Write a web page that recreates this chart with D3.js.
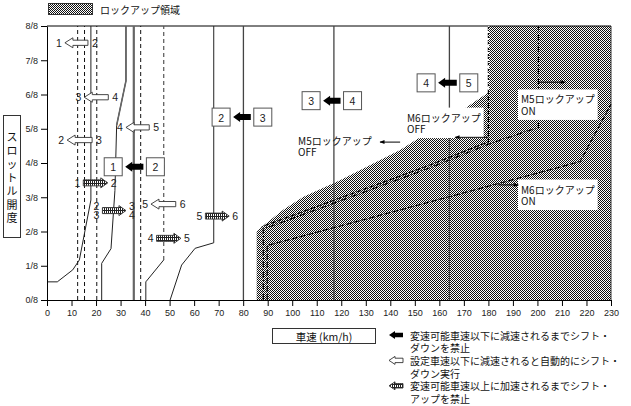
<!DOCTYPE html>
<html>
<head>
<meta charset="utf-8">
<script src="https://cdn.jsdelivr.net/npm/d3@7"></script>
<style>
body { margin: 0; background: #fff; }
svg { display: block; font-family: "Liberation Sans", Arial, sans-serif; }
.jp { font-family: "Noto Sans CJK JP", sans-serif; }
</style>
</head>
<body>
<div id="container"></div>
<script>
// ---- data (speed km/h, throttle in eighths) ----
const speedTicks = d3.range(0, 231, 10);
const throttleTicks = d3.range(0, 9);

const up12 = [[0, 0.53], [4.2, 0.53], [10.5, 0.88], [13.2, 1.17], [17.9, 2.92], [17.9, 8]];
const up23 = [[22.3, 0], [22.3, 1.07], [26.1, 1.5], [27.7, 3.2], [28.4, 5.1], [32.2, 6.4], [32.2, 8]];
const up34 = [[50.2, 0], [54.9, 1.02], [60.4, 1.51], [68, 1.67], [68, 8]];
const down43Low = [[40.3, 0], [40.3, 0.53], [47.6, 1.17]];
const down43High = [[47.6, 1.17], [47.6, 8]];
const solidVerticals = [80.1, 117, 164.1];
const grayVerticals = [35.4];
const dashedVerticals = [12.5, 15.3, 20.3, 38.2];

const lockupArea = [[85.5, 0], [85.5, 1.99], [87.6, 2.14], [96.2, 2.63], [104.4, 3.01], [119.5, 3.5],
  [144, 4.38], [164.4, 5.31], [180.3, 6.07], [180.3, 8], [230, 8], [230, 0]];
const lockM6Off = [[180, 8], [180, 4.62], [156.2, 3.94], [87.6, 2.14]];
const lockM5On = [[88.2, 0], [88.2, 2.07], [156.2, 3.86], [180, 4.55], [200.4, 5.04], [200.4, 8]];
const lockM6On = [[89.8, 0], [89.8, 1.59], [217.4, 4.04], [230, 5.72]];

const hollowArrows = [
  { tip: 7.3, tail: 16.7, t: 7.51, from: "1", to: "2" },
  { tip: 15.2, tail: 25.0, t: 5.92, from: "3", to: "4" },
  { tip: 32.2, tail: 41.7, t: 5.04, from: "4", to: "5" },
  { tip: 8.2, tail: 18.4, t: 4.67, from: "2", to: "3" },
  { tip: 42.4, tail: 52.5, t: 2.80, from: "5", to: "6" }
];
const hatchArrows = [
  { tail: 14.8, tip: 24.8, t: 3.42, from: ["1"], to: ["2"] },
  { tail: 22.6, tip: 32.2, t: 2.61, from: ["2", "3"], to: ["3", "4"] },
  { tail: 44.7, tip: 54.6, t: 1.80, from: ["4"], to: ["5"] },
  { tail: 64.6, tip: 74.3, t: 2.45, from: ["5"], to: ["6"] }
];
const gearBoxes = [
  { left: 27.0, right: 44.2, t: 3.89, from: "1", to: "2" },
  { left: 71.0, right: 88.0, t: 5.34, from: "2", to: "3" },
  { left: 107.7, right: 124.6, t: 5.82, from: "3", to: "4" },
  { left: 154.6, right: 172.0, t: 6.34, from: "4", to: "5" }
];
const lockLabels = [
  { s: 102.4, t: 4.67, lines: ["M5ロックアップ", "OFF"], bg: false },
  { s: 146.8, t: 5.34, lines: ["M6ロックアップ", "OFF"], bg: true },
  { s: 193.3, t: 5.87, lines: ["M5ロックアップ", "ON"], bg: true },
  { s: 193.3, t: 3.24, lines: ["M6ロックアップ", "ON"], bg: true }
];
const lockPointers = [[144.0, 135.8, 4.61], [180, 166.4, 4.75], [200.4, 211.3, 6.36], [184.1, 192.2, 3.36]];

const legendNotes = [
  { kind: "black", lines: ["変速可能車速以下に減速されるまでシフト・", "ダウンを禁止"] },
  { kind: "hollow", lines: ["設定車速以下に減速されると自動的にシフト・", "ダウン実行"] },
  { kind: "hatch", lines: ["変速可能車速以上に加速されるまでシフト・", "アップを禁止"] }
];
const yTitle = "スロットル開度".split("");

// ---- drawing ----
const W = 631, H = 406;
const svg = d3.select("#container").append("svg").attr("width", W).attr("height", H);
const defs = svg.append("defs");

const dots = defs.append("pattern").attr("id", "dots").attr("width", 2).attr("height", 2)
  .attr("patternUnits", "userSpaceOnUse");
dots.append("rect").attr("width", 2).attr("height", 2).attr("fill", "#fff");
dots.append("rect").attr("width", 1).attr("height", 1).attr("fill", "#111");
dots.append("rect").attr("x", 1).attr("y", 1).attr("width", 1).attr("height", 1).attr("fill", "#111");

const hatch = defs.append("pattern").attr("id", "hatch").attr("width", 2).attr("height", 3)
  .attr("patternUnits", "userSpaceOnUse");
hatch.append("rect").attr("width", 2).attr("height", 3).attr("fill", "#fff");
hatch.append("rect").attr("width", 1).attr("height", 3).attr("fill", "#222");
hatch.append("rect").attr("width", 2).attr("height", 1).attr("fill", "#222");

defs.append("marker").attr("id", "head").attr("viewBox", "0 0 10 10").attr("refX", 9).attr("refY", 5)
  .attr("markerWidth", 6).attr("markerHeight", 5).attr("markerUnits", "userSpaceOnUse").attr("orient", "auto")
  .append("path").attr("d", "M0,1L10,5L0,9Z").attr("fill", "#000");

const x = d3.scaleLinear().domain([0, 230]).range([47, 611]);
const y = d3.scaleLinear().domain([0, 8]).range([300, 26]);
const line = d3.line().x(d => x(d[0])).y(d => y(d[1]));

// lockup region
svg.append("path").datum(lockupArea).attr("d", line.curve(d3.curveLinearClosed))
  .attr("fill", "url(#dots)").attr("stroke", "none");
line.curve(d3.curveLinear);

// frame
svg.append("line").attr("x1", x(0)).attr("x2", x(230)).attr("y1", y(8)).attr("y2", y(8)).attr("stroke", "#000");
svg.append("line").attr("x1", x(230)).attr("x2", x(230)).attr("y1", y(8)).attr("y2", y(0)).attr("stroke", "#333");

// shift lines
dashedVerticals.forEach(v => {
  svg.append("path").datum([[v, 0], [v, 8]]).attr("d", line).attr("fill", "none")
    .attr("stroke", "#111").attr("stroke-dasharray", "4,3");
});
svg.append("path").datum(down43High).attr("d", line).attr("fill", "none")
  .attr("stroke", "#555").attr("stroke-width", 1.2).attr("stroke-dasharray", "4,3");
grayVerticals.forEach(v => {
  svg.append("path").datum([[v, 0], [v, 8]]).attr("d", line).attr("fill", "none")
    .attr("stroke", "#666").attr("stroke-width", 2.2);
});
solidVerticals.forEach(v => {
  svg.append("path").datum([[v, 0], [v, 8]]).attr("d", line).attr("fill", "none")
    .attr("stroke", "#444").attr("stroke-width", 1.3);
});
[up12, up23, up34, down43Low].forEach(p => {
  svg.append("path").datum(p).attr("d", line).attr("fill", "none").attr("stroke", "#222").attr("stroke-width", 1);
});
svg.append("path").datum(up23.slice(4)).attr("d", line).attr("fill", "none").attr("stroke", "#666").attr("stroke-width", 1.6);

// lockup lines
svg.append("path").datum(lockM6On).attr("d", line).attr("fill", "none")
  .attr("stroke", "#000").attr("stroke-width", 1.1).attr("stroke-dasharray", "6,2");
svg.append("path").datum(lockM5On).attr("d", line).attr("fill", "none")
  .attr("stroke", "#000").attr("stroke-width", 1.2).attr("stroke-dasharray", "6,2,1,2");
svg.append("path").datum(lockM6Off).attr("d", line).attr("fill", "none")
  .attr("stroke", "#000").attr("stroke-width", 1.2).attr("stroke-dasharray", "5,2");
svg.append("path").datum([[180, 8], [180, 6.07]]).attr("d", line).attr("fill", "none")
  .attr("stroke", "#fff").attr("stroke-width", 1).attr("stroke-dasharray", "1,2");

// lockup labels
lockLabels.forEach(l => {
  const g = svg.append("g");
  const txt = g.append("text").attr("class", "jp").attr("font-size", 10).attr("fill", "#111");
  l.lines.forEach((s, i) => {
    txt.append("tspan").attr("x", x(l.s)).attr("y", y(l.t) + i * 11.5).attr("dominant-baseline", "central").text(s);
  });
  if (l.bg) {
    const b = txt.node().getBBox();
    g.insert("rect", "text").attr("x", b.x - 3).attr("y", b.y - 2).attr("width", b.width + 6)
      .attr("height", b.height + 4).attr("fill", "#fff");
  }
});
lockPointers.forEach(p => {
  svg.append("line").attr("x1", x(p[0])).attr("x2", x(p[1])).attr("y1", y(p[2])).attr("y2", y(p[2]))
    .attr("stroke", "#000").attr("stroke-width", 1).attr("marker-end", "url(#head)");
});

// arrow shape, tip and tail in pixels
function arrowPath(tip, tail, cy, head, half, shaft) {
  const dir = tail > tip ? 1 : -1;
  const hx = tip + dir * head;
  return `M${tip},${cy}L${hx},${cy - half}L${hx},${cy - shaft}L${tail},${cy - shaft}` +
    `L${tail},${cy + shaft}L${hx},${cy + shaft}L${hx},${cy + half}Z`;
}
function num(tx, ty, s, anchor) {
  svg.append("text").attr("x", tx).attr("y", ty).attr("text-anchor", anchor)
    .attr("dominant-baseline", "central").attr("font-size", 10.5).attr("fill", "#222").text(s);
}

hollowArrows.forEach(a => {
  svg.append("path").attr("d", arrowPath(x(a.tip), x(a.tail), y(a.t), 8, 5, 2.6))
    .attr("fill", "#fff").attr("stroke", "#333").attr("stroke-width", 0.9);
  num(x(a.tip) - 3, y(a.t), a.from, "end");
  num(x(a.tail) + 4, y(a.t), a.to, "start");
});
hatchArrows.forEach(a => {
  svg.append("path").attr("d", arrowPath(x(a.tip), x(a.tail), y(a.t), 7, 5, 3))
    .attr("fill", "url(#hatch)").attr("stroke", "#333").attr("stroke-width", 0.9);
  const n = a.from.length;
  a.from.forEach((s, i) => num(x(a.tail) - 3, y(a.t) + (i - (n - 1) / 2) * 9.5, s, "end"));
  a.to.forEach((s, i) => num(x(a.tip) + 3, y(a.t) + (i - (n - 1) / 2) * 9.5, s, "start"));
});
gearBoxes.forEach(b => {
  [[b.left, b.from], [b.right, b.to]].forEach(([s, lab]) => {
    svg.append("rect").attr("x", x(s) - 9).attr("y", y(b.t) - 9).attr("width", 18).attr("height", 18)
      .attr("fill", "#fff").attr("stroke", "#555").attr("stroke-width", 1);
    num(x(s), y(b.t) + 0.5, lab, "middle");
  });
  svg.append("path").attr("d", arrowPath(x(b.left) + 12, x(b.right) - 12, y(b.t), 7, 5, 3)).attr("fill", "#000");
});

// axes
const xAxis = svg.append("g").attr("transform", `translate(0,${y(0)})`)
  .call(d3.axisBottom(x).tickValues(speedTicks).tickSize(6).tickSizeOuter(0).tickPadding(4));
const yAxis = svg.append("g").attr("transform", `translate(${x(0)},0)`)
  .call(d3.axisLeft(y).tickValues(throttleTicks).tickFormat(d => d + "/8").tickSize(6).tickSizeOuter(0).tickPadding(3));
[xAxis, yAxis].forEach(a => {
  a.selectAll("text").attr("font-size", 9).attr("font-family", "Liberation Sans, Arial, sans-serif").attr("fill", "#222");
  a.select(".domain").attr("stroke", "#000");
});

// top legend
svg.append("rect").attr("x", 48.5).attr("y", 3.5).attr("width", 44).attr("height", 11)
  .attr("fill", "url(#dots)").attr("stroke", "#333");
svg.append("text").attr("class", "jp").attr("x", 100).attr("y", 9.5).attr("dominant-baseline", "central")
  .attr("font-size", 10).attr("fill", "#111").text("ロックアップ領域");

// y title
svg.append("rect").attr("x", 3.5).attr("y", 115.5).attr("width", 17).attr("height", 122)
  .attr("fill", "#fff").attr("stroke", "#333");
yTitle.forEach((c, i) => {
  svg.append("text").attr("class", "jp").attr("x", 12).attr("y", 136 + i * 13.5).attr("text-anchor", "middle")
    .attr("dominant-baseline", "central").attr("font-size", 11).attr("fill", "#111").text(c);
});

// x title
svg.append("rect").attr("x", 272.5).attr("y", 328.5).attr("width", 103).attr("height", 15)
  .attr("fill", "#fff").attr("stroke", "#333");
svg.append("text").attr("class", "jp").attr("x", 324).attr("y", 336).attr("text-anchor", "middle")
  .attr("dominant-baseline", "central").attr("font-size", 10.5).attr("fill", "#111").text("車速 (km/h)");

// bottom legend
legendNotes.forEach((n, i) => {
  const cy = 335 + i * 25.4;
  const p = svg.append("path").attr("d", arrowPath(389, 403, cy, 6, 4, 2.2));
  if (n.kind === "black") p.attr("fill", "#000");
  else p.attr("fill", n.kind === "hollow" ? "#fff" : "url(#hatch)").attr("stroke", "#333").attr("stroke-width", 0.9);
  n.lines.forEach((s, j) => {
    svg.append("text").attr("class", "jp").attr("x", 410).attr("y", cy + j * 12.7)
      .attr("dominant-baseline", "central").attr("font-size", 10).attr("fill", "#111").text(s);
  });
});
</script>
</body>
</html>
